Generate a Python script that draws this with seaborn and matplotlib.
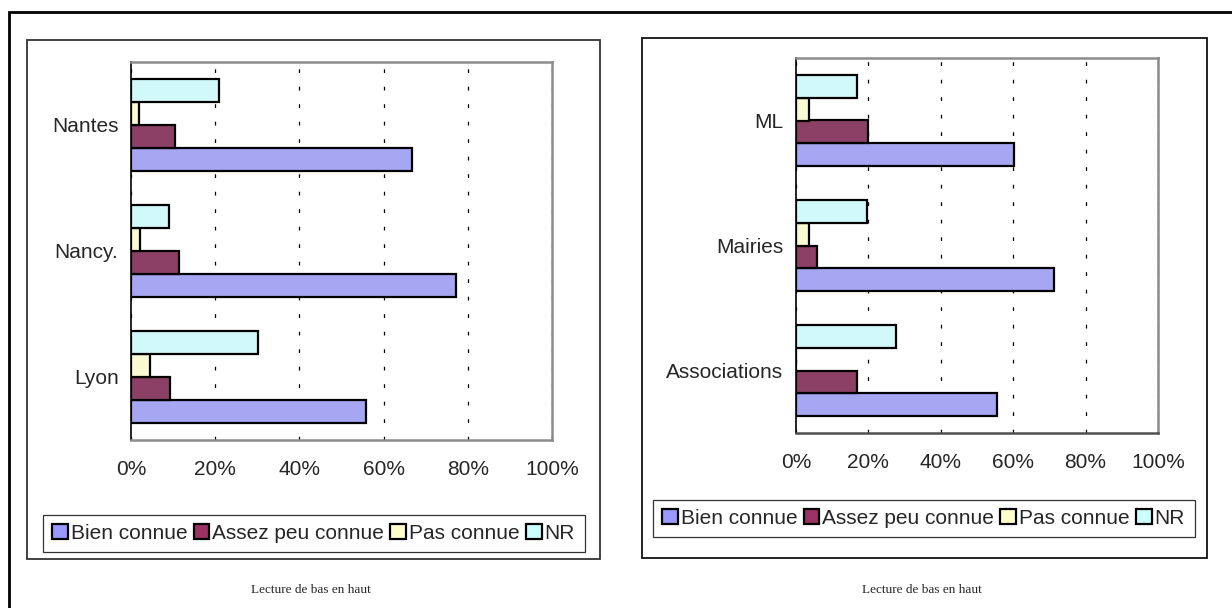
import numpy as np
import pandas as pd
import seaborn as sns
import matplotlib.pyplot as plt
from matplotlib.patches import Rectangle, Patch

sns.set_style("white")
plt.rcParams['font.family'] = ['Liberation Sans', 'DejaVu Sans']

reponses = ['Bien connue', 'Assez peu connue', 'Pas connue', 'NR']
couleurs = ['#9999FF', '#993366', '#FFFFCC', '#CCFFFF']

# chart 1 : villes (bottom to top)
villes = ['Lyon', 'Nancy.', 'Nantes']
bien_v = [55.8, 77.2, 66.7]
assez_v = [9.2, 11.4, 10.4]
pas_v = [4.6, 2.2, 2.0]
nr_v = [30.2, 9.0, 20.8]

# chart 2 : structures (bottom to top)
structures = ['Associations', 'Mairies', 'ML']
bien_s = [55.6, 71.4, 60.3]
assez_s = [16.8, 5.7, 20.0]
pas_s = [0.0, 3.5, 3.5]
nr_s = [27.5, 19.5, 16.8]

caption = 'Lecture de bas en haut'


def long_df(cats, series):
    rows = []
    for rep, vals in zip(reponses, series):
        for c, v in zip(cats, vals):
            rows.append({'cat': c, 'rep': rep, 'val': v})
    return pd.DataFrame(rows)


W, H = 1232, 608
fig = plt.figure(figsize=(W / 100, H / 100), dpi=100)


def fbox(x0, y0, x1, y1):
    return [x0 / W, 1 - y1 / H, (x1 - x0) / W, (y1 - y0) / H]


def draw(ax, cats, series, bottom_col):
    df = long_df(cats, series)
    sns.barplot(data=df, y='cat', x='val', hue='rep', order=cats,
                hue_order=reponses, palette=couleurs, orient='h',
                width=0.73, edgecolor='black', linewidth=1.6,
                legend=False, ax=ax)
    ax.set_ylim(-0.5, 2.5)
    ax.set_xlim(0, 100)
    ax.set_xticks(range(0, 101, 20))
    ax.set_xticklabels([f'{t}%' for t in range(0, 101, 20)])
    ax.set_xlabel('')
    ax.set_ylabel('')
    ax.set_axisbelow(True)
    ax.xaxis.grid(True, color='black', linestyle=(0, (3, 11)), linewidth=0.9)
    ax.yaxis.grid(False)
    ax.set_yticks([-0.5, 0.5, 1.5, 2.5], minor=True)
    ax.tick_params(axis='y', which='major', length=0, pad=9, labelsize=15)
    ax.tick_params(axis='y', which='minor', direction='out', length=5,
                   width=1, color='black')
    ax.tick_params(axis='x', which='major', direction='inout', length=7,
                   width=1, color='black', pad=11, labelsize=15)
    ax.spines['left'].set_color('black')
    ax.spines['left'].set_linewidth(1.2)
    for s in ['top', 'right']:
        ax.spines[s].set_color('#8c8c8c')
        ax.spines[s].set_linewidth(1.8)
    ax.spines['bottom'].set_color(bottom_col)
    ax.spines['bottom'].set_linewidth(1.8)


ax1 = fig.add_axes(fbox(131, 62, 552, 440))
draw(ax1, villes, [bien_v, assez_v, pas_v, nr_v], '#8c8c8c')
ax2 = fig.add_axes(fbox(796, 58, 1158, 433))
draw(ax2, structures, [bien_s, assez_s, pas_s, nr_s], '#505050')

handles = [Patch(facecolor=c, edgecolor='black', linewidth=1.6) for c in couleurs]
for cx, cy in [(313.5, 533.5), (923.5, 518.5)]:
    leg = fig.legend(handles, reponses, loc='center',
                     bbox_to_anchor=(cx / W, 1 - cy / H), ncol=4,
                     frameon=True, fancybox=False, edgecolor='black',
                     fontsize=15, handlelength=0.75, handleheight=0.75,
                     handletextpad=0.15, columnspacing=0.3,
                     borderpad=0.45, borderaxespad=0)
    leg.get_frame().set_linewidth(0.9)

# panel frames
fig.patches.append(Rectangle((27 / W, 1 - 559 / H), 573 / W, 519 / H,
                             transform=fig.transFigure, fill=False,
                             edgecolor='#333333', linewidth=1.3))
fig.patches.append(Rectangle((642 / W, 1 - 558 / H), 565 / W, 520 / H,
                             transform=fig.transFigure, fill=False,
                             edgecolor='#111111', linewidth=1.3))
# outer frame
fig.patches.append(Rectangle((9 / W, -0.05), 1.2, 1 - 12 / H + 0.05,
                             transform=fig.transFigure, fill=False,
                             edgecolor='black', linewidth=2))

fig.text(311 / W, 1 - 590 / H, caption, family='Liberation Serif',
         fontsize=9.5, ha='center', va='center')
fig.text(922 / W, 1 - 590 / H, caption, family='Liberation Serif',
         fontsize=9.5, ha='center', va='center')

fig.savefig('out.png', dpi=100)
